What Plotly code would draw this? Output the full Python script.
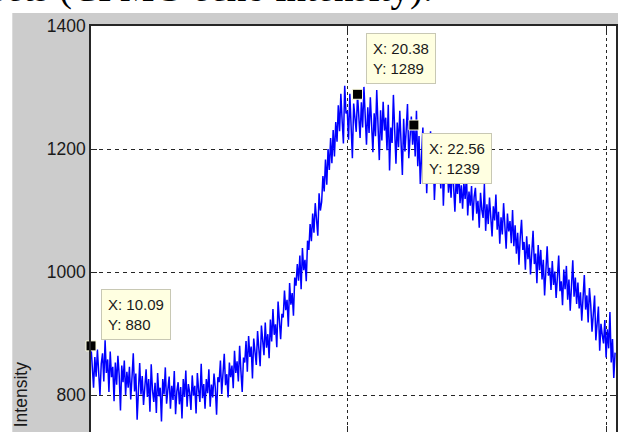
import plotly.graph_objects as go

# Sampling of the spectrum axis
x_start = 10.09
x_step = 0.04947

# Measured echo intensity, one value per sample
intensity = [
    880, 845, 812, 862, 830, 874, 840, 800, 851, 868,
    822, 889, 836, 858, 805, 871, 829, 846, 790, 853,
    817, 864, 832, 775, 848, 821, 856, 800, 838, 812,
    846, 793, 829, 868, 806, 835, 760, 822, 852, 801,
    831, 784, 818, 842, 797, 826, 773, 850, 808, 789,
    820, 771, 836, 798, 812, 757, 826, 801, 845, 786,
    809, 830, 778, 815, 792, 839, 769, 806, 821, 785,
    813, 762, 826, 797, 840, 781, 818, 804, 776, 832,
    799, 815, 770, 836, 808, 789, 851, 795, 818, 778,
    826, 803, 842, 781, 817, 796, 835, 812, 768, 829,
    821, 856, 802, 840, 867, 816, 834, 796, 853, 829,
    848, 811, 872, 836, 855, 822, 880, 839, 805, 861,
    853, 888, 838, 896, 862, 879, 827, 892, 866, 849,
    904, 871, 847, 913, 886, 865, 918, 877, 899, 860,
    923, 887, 940, 898, 915, 878, 952, 909, 891, 932,
    926, 970, 938, 955, 911, 982, 947, 966, 929, 991,
    978, 1013, 986, 1027, 972, 1039, 1003, 1020, 985, 1051,
    1036, 1078, 1050, 1095, 1064, 1112, 1081, 1059, 1128, 1100,
    1114, 1156, 1131, 1183, 1142, 1200, 1166, 1218, 1177, 1231,
    1188, 1244, 1212, 1271, 1229, 1290, 1246, 1209, 1303, 1258,
    1262, 1215, 1290, 1231, 1185, 1274, 1246, 1228, 1289, 1253,
    1218, 1276, 1235, 1301, 1249, 1207, 1268, 1226, 1284, 1240,
    1195, 1258, 1221, 1296, 1237, 1182, 1263, 1214, 1277, 1230,
    1251, 1198, 1272, 1165, 1235, 1210, 1288, 1226, 1176, 1243,
    1203, 1262, 1217, 1158, 1249, 1196, 1231, 1273, 1185, 1221,
    1253, 1207, 1239, 1188, 1262, 1172, 1221, 1143, 1204, 1235,
    1160, 1213, 1128, 1192, 1176, 1229, 1150, 1198, 1117, 1183,
    1211, 1154, 1178, 1136, 1192, 1108, 1165, 1147, 1183, 1129,
    1158, 1121, 1173, 1139, 1098, 1152, 1127, 1166, 1112, 1141,
    1103, 1146, 1119, 1158, 1092, 1131, 1108, 1140, 1084, 1122,
    1137, 1095, 1116, 1072, 1129, 1101, 1088, 1143, 1067, 1110,
    1078, 1121, 1093, 1058, 1107, 1084, 1126, 1069, 1098, 1046,
    1089, 1061, 1112, 1073, 1038, 1095, 1066, 1083, 1047, 1101,
    1042, 1076, 1030, 1064, 1012, 1057, 1085, 1036, 1049, 1004,
    1058, 1021, 1045, 996, 1039, 1067, 1013, 1030, 982, 1044,
    1003, 1036, 988, 1020, 962, 1011, 1042, 994, 1007, 971,
    1018, 979, 1001, 958, 993, 1027, 969, 985, 946, 1004,
    972, 1010, 955, 988, 937, 979, 1019, 960, 991, 948,
    983, 941, 967, 921, 958, 995, 939, 962, 918, 974,
    947, 903, 931, 962, 889, 925, 944, 872, 916, 898,
    884, 922, 861, 907, 876, 935, 853, 891, 828, 869,
]
x_vals = [x_start + x_step * i for i in range(len(intensity))]

# Samples marked with data tips
tip_index = [0, 208, 252]
# Pixel offsets of each tip box from its marker, and box anchoring
tip_shift = [(10, 6, "bottom"), (8, 10, "bottom"), (8, -8, "top")]

y_ticks = [800, 1000, 1200, 1400]

tick_font = dict(family="Liberation Sans, Arial, sans-serif", size=17.5, color="#1a1a1a")

fig = go.Figure()
fig.add_trace(go.Scatter(
    x=x_vals, y=intensity, mode="lines",
    line=dict(color="#0000ff", width=1.5),
    hoverinfo="skip", showlegend=False,
))
fig.add_trace(go.Scatter(
    x=[x_vals[i] for i in tip_index],
    y=[intensity[i] for i in tip_index],
    mode="markers",
    marker=dict(symbol="square", size=10, color="black",
                line=dict(color="#ffffe1", width=1)),
    hoverinfo="skip", showlegend=False, cliponaxis=False,
))

annotations = []
for i, (dx, dy, anchor) in zip(tip_index, tip_shift):
    annotations.append(dict(
        x=x_vals[i], y=intensity[i], xref="x", yref="y",
        text=f"X: {x_vals[i]:.2f}<br>Y: {intensity[i]:d}",
        showarrow=False, xanchor="left", yanchor=anchor,
        xshift=dx, yshift=dy, align="left",
        bgcolor="#ffffe1", bordercolor="#c8c8b4", borderwidth=1, borderpad=6,
        font=dict(family="Liberation Sans, Arial, sans-serif", size=15, color="#1a1a1a"),
    ))

# Y axis label
annotations.append(dict(
    x=-0.1328, y=0.0911, xref="paper", yref="paper",
    text="Intensity", textangle=-90, showarrow=False,
    xanchor="center", yanchor="middle", font=tick_font,
))

# Caption line running above the figure window
annotations.append(dict(
    x=(435 - 91) / 527, y=1 + (26 - 10.5) / 406, xref="paper", yref="paper",
    text="data sets (CPMG echo intensity).", showarrow=False,
    xanchor="right", yanchor="bottom", borderpad=0,
    font=dict(family="Liberation Serif, Times New Roman, serif", size=39, color="black"),
))

# White page strips around the grey figure window
shapes = [
    dict(type="rect", xref="paper", yref="paper", x0=-0.18, x1=1.01,
         y0=1 + 13 / 406, y1=1.08, fillcolor="white", line=dict(width=0), layer="below"),
    dict(type="rect", xref="paper", yref="paper", x0=-0.18, x1=(12 - 91) / 527,
         y0=-0.01, y1=1.08, fillcolor="white", line=dict(width=0), layer="below"),
]

fig.update_layout(
    width=618, height=432,
    margin=dict(l=91, r=0, t=26, b=0, pad=0),
    paper_bgcolor="#cccccc", plot_bgcolor="white",
    annotations=annotations, shapes=shapes,
    showlegend=False,
)
fig.update_xaxes(
    range=[10.09, 10.09 + 527 / 26.0], tickvals=[10, 20, 30],
    showticklabels=False, ticks="inside", ticklen=6, tickcolor="#262626",
    showline=True, linecolor="#262626", linewidth=1.5, mirror="ticks",
    showgrid=True, gridcolor="#262626", gridwidth=1, griddash="3px,3px",
    zeroline=False,
)
fig.update_yaxes(
    range=[740, 1400], tickvals=y_ticks, ticktext=[str(v) for v in y_ticks],
    ticks="inside", ticklen=6, tickcolor="#262626", tickfont=tick_font,
    showline=True, linecolor="#262626", linewidth=1.5, mirror="ticks",
    showgrid=True, gridcolor="#262626", gridwidth=1, griddash="4px,4px",
    zeroline=False,
)

fig.write_html("out.html")
